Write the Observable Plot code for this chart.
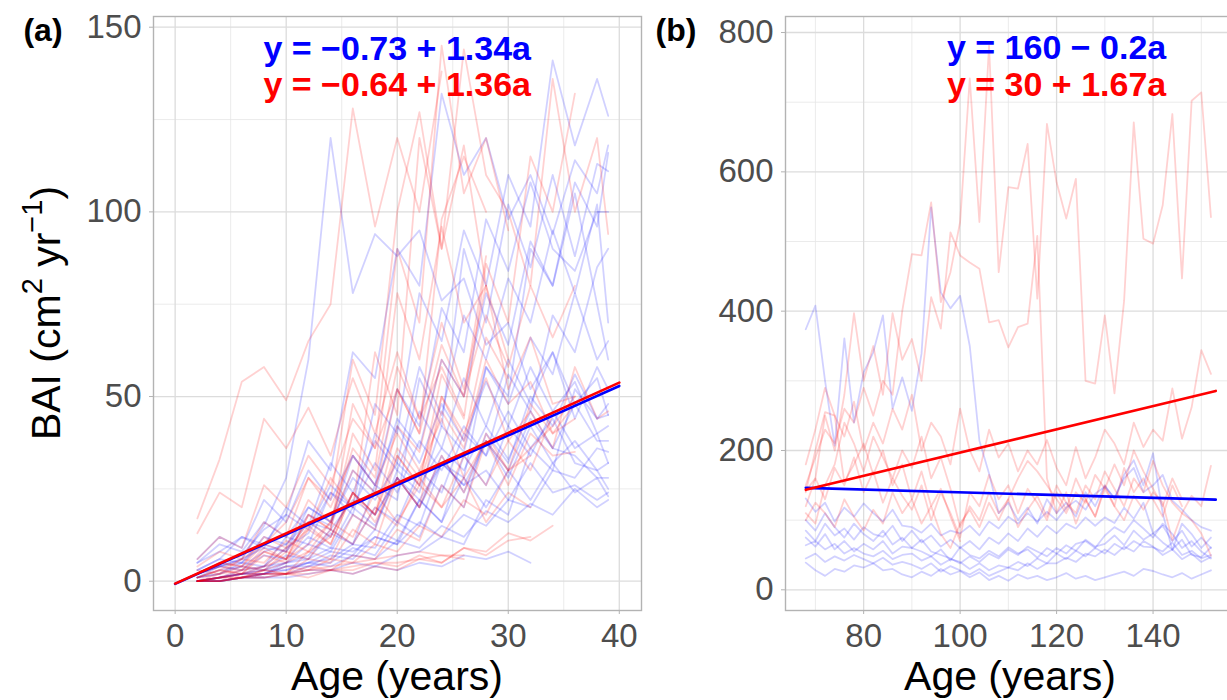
<!DOCTYPE html>
<html><head><meta charset="utf-8">
<script src="https://cdn.jsdelivr.net/npm/d3@7"></script>
<script src="https://cdn.jsdelivr.net/npm/@observablehq/plot@0.6"></script>
<style>
html,body{margin:0;padding:0;background:#fff;overflow:hidden;}
#wrap{position:relative;width:1227px;height:700px;overflow:hidden;background:#fff;}
#pa,#pb{position:absolute;top:0;}
#pa{left:0;width:656px;}
#pb{left:641px;width:600px;}
</style></head><body><div id="wrap"><div id="pa"></div><div id="pb"></div></div>
<script>
// ---------- Panel (a) data: ages and BAI series ----------
const ageA = [2,4,6,8,10,12,14,16,18,20,22,24,26,28,30,32,34,36,38,39];
const blueA = [
  [1,4,6,15,28,60,120,78,94,88,95,76,82,64,70,52,62,48,55,45],
  [2,5,7,14,18,38,30,62,55,90,80,132,110,120,98,110,94,114,105,118],
  [0,1,3,4,9,13,24,20,48,40,78,65,95,80,110,96,141,118,136,126],
  [0,0,1,2,5,7,14,10,26,22,55,42,90,70,102,85,110,88,113,111],
  [1,2,5,4,12,10,24,18,40,32,58,45,72,60,82,70,95,78,102,70],
  [0,1,2,4,5,10,8,18,14,30,24,42,35,58,48,66,56,78,60,65],
  [3,6,12,9,20,15,32,24,38,30,46,36,55,42,60,48,62,44,58,52],
  [0,0,1,2,2,4,5,9,7,16,12,26,20,40,32,50,42,56,44,45],
  [2,4,3,7,6,12,9,20,15,28,20,34,24,38,28,42,32,38,30,32],
  [0,1,2,2,4,5,8,7,14,11,22,16,28,20,30,22,32,24,28,23],
  [5,8,12,10,18,14,26,20,32,24,38,30,42,34,46,36,44,32,30,25],
  [0,0,1,1,2,3,3,5,4,7,8,12,10,22,18,36,30,52,44,48],
  [1,2,4,3,7,6,13,10,20,16,30,24,40,34,56,46,72,62,85,90],
  [6,12,9,22,16,30,22,34,26,42,32,48,38,54,42,58,46,54,40,42],
  [0,1,2,3,3,5,4,7,6,11,9,15,12,19,16,21,18,25,20,22],
  [2,4,5,10,8,20,16,34,26,52,42,74,62,98,84,108,90,84,100,100],
  [0,0,1,1,1,2,3,2,4,3,5,4,7,6,8,5],
  [5,10,8,16,12,20,16,28,22,32,26,36,30,42,33,46,36,34,28,28],
  [1,3,4,8,10,18,15,30,24,44,36,60,50,78,64,92,80,108,96,116],
  [0,1,2,2,4,4,7,6,12,10,22,16,34,26,42,34,46,36,40,32],
  [3,6,5,12,10,16,14,22,18,28,20,32,26,38,30,44,36,48,38,38],
  [0,0,1,2,3,5,6,10,9,18,15,32,28,58,50,90,80,105,75,60],
  [2,4,6,9,8,16,12,24,18,28,22,32,26,30,22,32,24,26,22,24],
  [0,1,2,3,5,6,9,8,12,10,16,12,18,15,22,20,30,28,36,35]
];
const redA = [
  [17,33,54,58,49,65,75,128,96,120,100,138],
  [13,24,20,44,36,47,34,55,40,62,44,58,45],
  [1,3,6,10,16,28,22,60,45,100,127,90,118,80],
  [0,2,3,8,6,18,14,48,36,90,70,145,105,120,95],
  [0,1,3,4,9,14,28,20,62,45,120,90,144,110,100,80,136,100,120,94],
  [2,5,4,12,9,22,16,36,28,58,44,70,52,80,60],
  [0,0,1,3,2,6,5,14,10,28,20,50,38,66,55],
  [1,2,4,3,8,6,14,10,20,15,28,20,34,26,38,30,45],
  [0,0,1,1,2,2,3,3,5,4,7,5,9,7,11,12],
  [0,1,1,2,2,3,4,5,6,7,8,7,6],
  [4,8,6,16,12,28,20,34,26,40,30,44,28,38,26,40,34,35],
  [0,1,2,4,6,10,16,30,24,52,40,98,115,100],
  [1,3,2,8,6,18,14,40,30,78,60,96,70,80,52,66,48,50],
  [0,0,1,2,2,4,3,7,6,14,11,26,20,38,30,48,40,48],
  [3,2,6,5,11,8,16,12,24,16,26,20,28,16,24,20],
  [0,1,2,3,5,8,12,24,18,42,35,60,50,88],
  [0,0,1,1,2,1,3,2,4,3,6,5,9,8,13,11,15],
  [1,3,2,7,5,14,10,24,18,36,28,50,40,55,38,46,36,58,44,46],
  [6,12,9,26,20,34,26,44,36,52,40,64,50,72,58,80,66,80],
  [0,1,2,2,4,3,6,5,10,8,15,12,22,18,30,34],
  [2,4,3,9,6,15,10,24,16,28,20,34,24,40,30,36,42,50],
  [0,0,1,3,2,8,6,18,14,34,26,56,44,86,70,115,100,132],
  [0,1,1,2,2,3,3,4,5,5,6,7,7],
  [2,5,4,10,8,16,12,24,18,34,26,46,36,60,48,54,40,44]
];
// ---------- Panel (b) data ----------
const ageB = [68,70,72,74,76,78,80,82,84,86,88,90,92,94,96,98,100,102,104,106,108,110,112,114,116,118,120,122,124,126,128,130,132,134,136,138,140,142,144,146,148,150,152];
const blueB = [
  [374,408,300,207,361,240,312,341,394,260,305,257,339,549,427,404,422,350,214,167,110,125,100,118,95,130,110,125,105,140,120,150,130,165,186,150,196,110,57,95,80,60,75],
  [131,112,125,98,118,105,124,110,98,115,92,90,82,95,78,85,81,92,78,98,88,105,95,110,98,112,100,118,128,115,138,148,132,160,175,140,150,165,128,115,100,90,85],
  [85,70,95,78,88,72,90,80,76,92,70,85,68,78,62,72,60,70,58,75,66,81,70,88,76,92,81,95,88,104,92,104,96,118,102,125,81,92,70,85,62,75,60],
  [75,62,80,58,70,55,66,58,70,52,62,60,55,48,58,42,61,50,45,56,48,61,52,58,46,60,52,64,56,72,62,66,78,64,85,72,81,68,58,72,50,47,61],
  [64,70,58,66,52,60,52,48,56,44,50,52,42,48,36,44,40,30,38,28,35,32,40,34,45,38,52,44,56,48,60,52,66,58,70,62,61,55,68,50,56,45,50],
  [39,28,20,30,26,35,32,38,28,30,22,18,26,20,30,22,27,18,25,14,20,13,22,16,20,14,18,24,16,20,14,18,22,26,20,30,27,22,18,24,16,22,28],
  [45,52,40,48,42,50,44,38,46,36,40,36,30,38,26,34,28,22,30,20,26,32,28,38,30,38,38,46,40,52,48,58,50,62,55,70,62,50,58,44,52,40,47],
  [100,85,110,90,75,95,80,70,85,65,75,60,72,55,50,45,38,48,40,52,45,58,50,62,55,48,60,52,66,70,60,78,90,82,100,88,75,95,80,60,70,55,45]
];
const redB = [
  [150,190,230,210,260,240,290,250,300,280,400,482,480,556,413,456,528,734,528,781,456,578,576,640,418,669,585,533,590,300,296,394,282,415,671,504,497,552,683,447,702,714,535],
  [120,160,250,200,280,397,300,350,280,397,330,360,300,420,375,513,480,470,461,384,387,348,377,382,508,160,110,140,95,130,105,150,120,175,140,160,130,105,150,120],
  [180,230,290,250,220,270,200,240,210,260,230,280,200,240,220,180,260,200,170,230,190,210,170,200,180,215,175,150,205,160,190,230,210,180,240,205,230,214,289,217,262,344,310],
  [142,160,130,175,150,190,140,170,125,160,135,115,150,100,140,110,75,140,120,165,130,150,110,145,125,100,140,115,160,130,105,145,120,100,135,115,140,125,71,110,135,120,178],
  [100,125,110,90,130,105,85,115,95,140,110,130,95,120,80,60,95,115,90,125,100,130,90,115,135,105,150,125,110,150,130,170,145,120,160,140,185,150,125,110,100,81,49],
  [110,95,150,180,240,210,170,220,190,160,200,175,220,160,190,145,90,120,100,140,110,130,160,185,170,150,130,110,140,125,165,145,180,150,200,170,145,120,160,130],
  [140,200,255,250,155,180,210,165,200,150,180,130,170,120,145,105,70]
];
// ---------- Fitted lines (intercept, slope) and labels ----------
const fitA = {blue: [-0.73, 1.34], red: [-0.64, 1.36], ages: [0, 40]};
const fitB = {blue: [160, -0.2], red: [30, 1.67], ages: [68, 153]};
const eqA = ["y = \u22120.73 + 1.34a", "y = \u22120.64 + 1.36a"];
const eqB = ["y = 160 \u2212 0.2a", "y = 30 + 1.67a"];
const ticksAx = [0,10,20,30,40], minorAx = [5,15,25,35];
const ticksAy = [0,50,100,150], minorAy = [25,75,125];
const ticksBx = [80,100,120,140], minorBx = [70,90,110,130,150];
const ticksBy = [0,200,400,600,800], minorBy = [100,300,500,700];
const panelLabels = ["(a)", "(b)"];
const xTitle = "Age (years)";

const FONT = '"Liberation Sans", Arial, Helvetica, sans-serif';
const BLUE = "#0000ff", RED = "#ff0000";

function rows(ages, list, pre) {
  const out = [];
  list.forEach((vals, k) => vals.forEach((v, i) => out.push({age: ages[i], bai: v, id: pre + k})));
  return out;
}
function fitRows(coef, ages) {
  return ages.map(a => ({age: a, bai: coef[0] + coef[1] * a}));
}

function panel(o) {
  return Plot.plot({
    width: o.width, height: 700,
    marginLeft: o.ml, marginRight: o.mr, marginTop: 16, marginBottom: 90,
    x: {domain: o.xd}, y: {domain: o.yd},
    style: {fontFamily: FONT, fontSize: "33px", background: "transparent", maxWidth: "none", overflow: "visible"},
    marks: [
      Plot.ruleX(o.minX, {stroke: "#e6e6e6", strokeWidth: 0.8}),
      Plot.ruleY(o.minY, {stroke: "#e6e6e6", strokeWidth: 0.8}),
      Plot.ruleX(o.majX, {stroke: "#dcdcdc", strokeWidth: 1.3}),
      Plot.ruleY(o.majY, {stroke: "#dcdcdc", strokeWidth: 1.3}),
      Plot.line(rows(o.ages, o.blue, "b"), {x: "age", y: "bai", z: "id", stroke: BLUE, strokeOpacity: 0.18, strokeWidth: 1.8}),
      Plot.line(rows(o.ages, o.red, "r"), {x: "age", y: "bai", z: "id", stroke: RED, strokeOpacity: 0.18, strokeWidth: 1.8}),
      Plot.line(fitRows(o.fit.blue, o.fit.ages), {x: "age", y: "bai", stroke: BLUE, strokeWidth: 2.6}),
      Plot.line(fitRows(o.fit.red, o.fit.ages), {x: "age", y: "bai", stroke: RED, strokeWidth: 2.6}),
      Plot.text([o.eq[0]], {x: () => o.eqX, y: () => o.eqY[0], text: d => d, fill: BLUE, fontWeight: "bold", fontSize: 34}),
      Plot.text([o.eq[1]], {x: () => o.eqX, y: () => o.eqY[1], text: d => d, fill: RED, fontWeight: "bold", fontSize: 34}),
      Plot.frame({stroke: "#b3b3b3", strokeWidth: 1.4}),
      Plot.axisX(o.majX, {tickSize: 4, tickPadding: 9, color: "#4d4d4d", stroke: "#b3b3b3", label: null}),
      Plot.axisY(o.majY, {tickSize: 4, tickPadding: 8, color: "#4d4d4d", stroke: "#b3b3b3", label: null})
    ]
  });
}

const svgA = panel({width: 656, ml: 153, mr: 15, xd: [-1.95, 42], yd: [-7.93, 152.9],
  minX: minorAx, minY: minorAy, majX: ticksAx, majY: ticksAy,
  ages: ageA, blue: blueA, red: redA, fit: fitA, eq: eqA, eqX: 20, eqY: [144.2, 134.2]});
const svgB = panel({width: 600, ml: 144, mr: 5, xd: [63.8, 157.3], yd: [-29.7, 823],
  minX: minorBx, minY: minorBy, majX: ticksBx, majY: ticksBy,
  ages: ageB, blue: blueB, red: redB, fit: fitB, eq: eqB, eqX: 120, eqY: [777, 724]});
document.getElementById("pa").appendChild(svgA);
document.getElementById("pb").appendChild(svgB);

// Titles and panel tags
function addText(svg, x, y, txt, opts) {
  return d3.select(svg).append("text").attr("x", x).attr("y", y)
    .attr("font-family", FONT).attr("font-size", opts.size).attr("fill", opts.fill || "#000")
    .attr("text-anchor", opts.anchor || "middle").attr("font-weight", opts.weight || "normal")
    .attr("dominant-baseline", "central").text(txt);
}
addText(svgA, 43, 30, panelLabels[0], {size: 32, weight: "bold"});
addText(svgB, 676 - 641, 30, panelLabels[1], {size: 32, weight: "bold"});
addText(svgA, 397, 676, xTitle, {size: 41});
addText(svgB, 1010 - 641, 676, xTitle, {size: 41});
// y title with superscripts
const yt = d3.select(svgA).append("text")
  .attr("transform", "translate(46,313) rotate(-90)")
  .attr("text-anchor", "middle").attr("dominant-baseline", "central")
  .attr("font-family", FONT).attr("font-size", 41).attr("fill", "#000");
yt.append("tspan").text("BAI (cm");
yt.append("tspan").attr("dy", -14).attr("font-size", 29).text("2");
yt.append("tspan").attr("dy", 14).text(" yr");
yt.append("tspan").attr("dy", -14).attr("font-size", 29).text("\u22121");
yt.append("tspan").attr("dy", 14).text(")");
</script></body></html>
